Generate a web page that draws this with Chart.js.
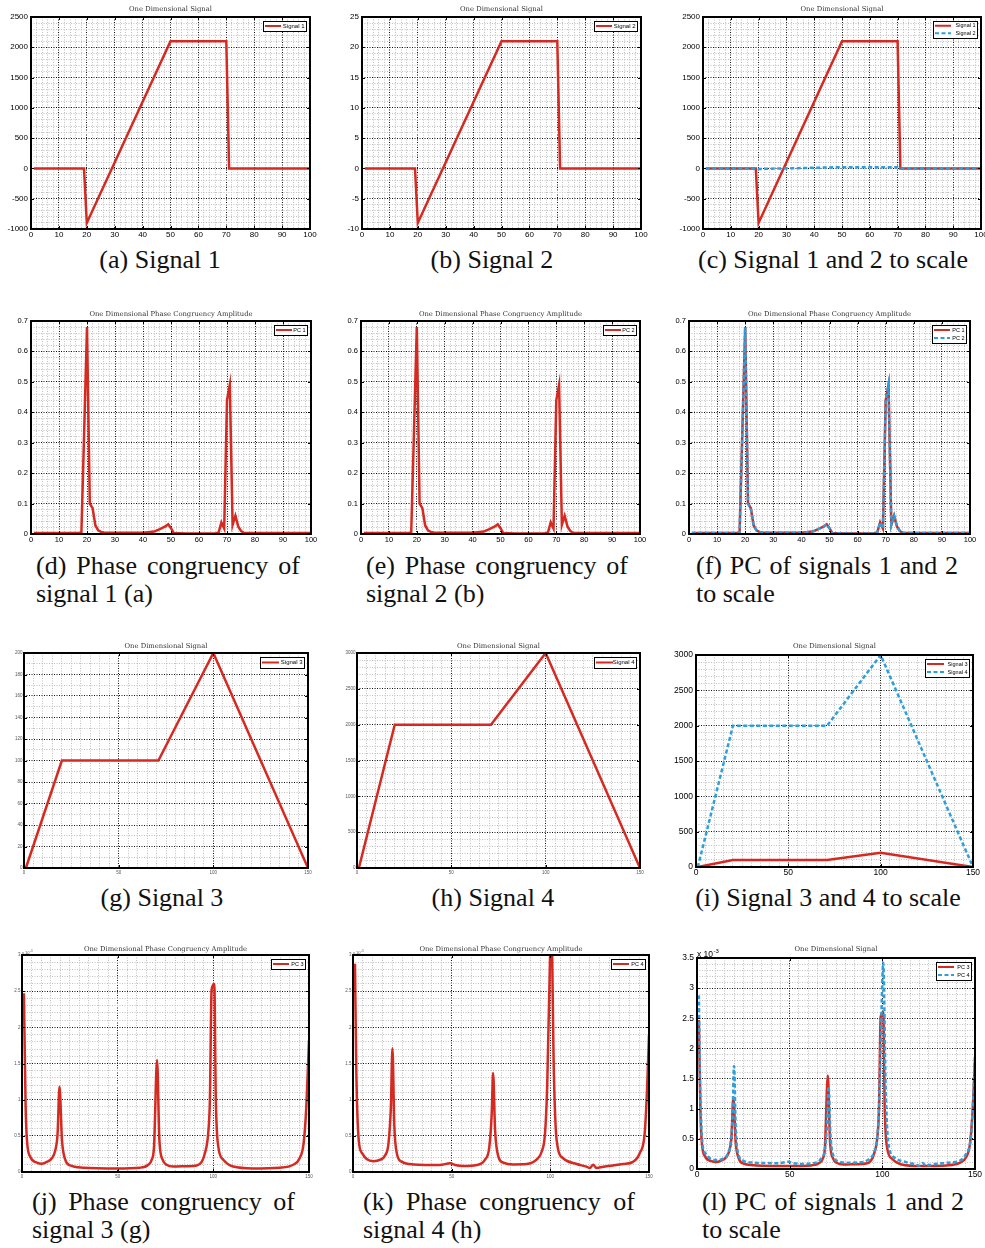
<!DOCTYPE html>
<html>
<head>
<meta charset="utf-8">
<script src="https://cdn.jsdelivr.net/npm/chart.js@4.4.1/dist/chart.umd.min.js"></script>
<style>
  body { margin: 0; width: 985px; height: 1248px; overflow: hidden; background: #fff; position: relative; }
  canvas { position: absolute; }
  .cap { position: absolute; font-family: "Liberation Serif", serif; font-size: 26px; line-height: 28px; color: #111; white-space: nowrap; }
  .c { width: 400px; margin-left: -200px; text-align: center; }
  .j { text-align: justify; text-align-last: justify; }
</style>
</head>
<body>
<div class="cap c" style="left:160px;top:246px">(a) Signal 1</div>
<div class="cap c" style="left:492px;top:246px">(b) Signal 2</div>
<div class="cap c" style="left:833px;top:246px">(c) Signal 1 and 2 to scale</div>

<div class="cap j" style="left:36px;top:552px;width:264px">(d) Phase congruency of</div>
<div class="cap" style="left:36px;top:580px">signal 1 (a)</div>
<div class="cap j" style="left:366px;top:552px;width:262px">(e) Phase congruency of</div>
<div class="cap" style="left:366px;top:580px">signal 2 (b)</div>
<div class="cap j" style="left:696px;top:552px;width:262px">(f) PC of signals 1 and 2</div>
<div class="cap" style="left:696px;top:580px">to scale</div>

<div class="cap c" style="left:162px;top:884px">(g) Signal 3</div>
<div class="cap c" style="left:493px;top:884px">(h) Signal 4</div>
<div class="cap c" style="left:828px;top:884px">(i) Signal 3 and 4 to scale</div>

<div class="cap j" style="left:32px;top:1188px;width:263px">(j) Phase congruency of</div>
<div class="cap" style="left:32px;top:1216px">signal 3 (g)</div>
<div class="cap j" style="left:363px;top:1188px;width:272px">(k) Phase congruency of</div>
<div class="cap" style="left:363px;top:1216px">signal 4 (h)</div>
<div class="cap j" style="left:702px;top:1188px;width:262px">(l) PC of signals 1 and 2</div>
<div class="cap" style="left:702px;top:1216px">to scale</div>

<script>
// ---- data ----
const sig1X = [1, 19, 20, 50, 70, 71, 100];
const sig1Y = [0, 0, -900, 2100, 2100, 0, 0];
const sig2X = [1, 19, 20, 50, 70, 71, 100];
const sig2Y = [0, 0, -9, 21, 21, 0, 0];

const pc1X = [1, 17, 18, 19, 20, 21, 22, 23, 24, 25, 26, 30, 40, 44, 46, 48, 49, 50, 51, 55, 66, 67, 68, 69, 70, 71, 72, 73, 74, 75, 76, 80, 100];
const pc1Y = [0.003, 0.003, 0.005, 0.34, 0.68, 0.1, 0.085, 0.028, 0.012, 0.007, 0.005, 0.004, 0.004, 0.008, 0.016, 0.025, 0.032, 0.019, 0.003, 0.002, 0.002, 0.005, 0.038, 0.018, 0.44, 0.49, 0.03, 0.06, 0.025, 0.01, 0.004, 0.003, 0.003];
const pc2X = [1, 17, 18, 19, 20, 21, 22, 23, 24, 25, 26, 30, 40, 44, 46, 48, 49, 50, 51, 55, 66, 67, 68, 69, 70, 71, 72, 73, 74, 75, 76, 80, 100];
const pc2Y = [0.003, 0.003, 0.005, 0.34, 0.68, 0.1, 0.085, 0.028, 0.012, 0.007, 0.005, 0.004, 0.004, 0.008, 0.016, 0.025, 0.032, 0.019, 0.003, 0.002, 0.002, 0.005, 0.038, 0.018, 0.44, 0.49, 0.03, 0.06, 0.025, 0.01, 0.004, 0.003, 0.003];

const sig3X = [1, 20, 71, 100, 150];
const sig3Y = [0, 100, 100, 200, 0];
const sig4X = [1, 20, 71, 100, 150];
const sig4Y = [0, 2000, 2000, 3000, 0];

// phase congruency of signals 3 and 4, in units of 1e-3
const pc3X = [1, 1.9, 2.6, 4.3, 7.8, 10.4, 13, 15.6, 17.4, 18.6, 19.6, 20.9, 22.6, 25.2, 32, 49.5, 61.7, 66, 67.8, 69, 70.6, 71.8, 73.5, 75.6, 79, 86, 91.3, 93.9, 95.6, 97.3, 98.2, 99.1, 100.5, 101.3, 102.6, 105.2, 110.4, 120.8, 134.7, 141.7, 145.1, 147.2, 148.6, 150];
const pc3Y = [2.47, 0.9, 0.44, 0.21, 0.13, 0.115, 0.14, 0.19, 0.3, 0.53, 1.18, 0.44, 0.17, 0.09, 0.06, 0.05, 0.06, 0.1, 0.17, 0.35, 1.55, 0.44, 0.17, 0.1, 0.075, 0.08, 0.09, 0.14, 0.26, 0.53, 1.0, 2.52, 2.6, 1.0, 0.35, 0.17, 0.075, 0.05, 0.06, 0.1, 0.19, 0.4, 0.9, 1.82];
const pc4X = [1, 1.7, 2.9, 4.6, 7.1, 10.4, 13.8, 16.3, 18, 19.2, 20, 20.9, 22.2, 24.8, 30.7, 44, 49.2, 51.7, 56, 62.7, 66.9, 69.1, 70.3, 71, 72, 73.7, 76.2, 81.2, 88, 93, 95.6, 97.3, 98.4, 99.3, 100.5, 101.8, 103.2, 106.5, 113.3, 118.3, 120, 121.7, 123.4, 126.8, 136.9, 141.9, 145.3, 147.8, 149, 150];
const pc4Y = [2.88, 1.36, 0.44, 0.26, 0.175, 0.15, 0.17, 0.23, 0.4, 0.9, 1.71, 0.67, 0.26, 0.14, 0.105, 0.097, 0.12, 0.097, 0.083, 0.097, 0.17, 0.35, 0.81, 1.37, 0.58, 0.21, 0.13, 0.105, 0.11, 0.17, 0.28, 0.53, 1.18, 2.29, 3.42, 1.36, 0.44, 0.19, 0.11, 0.074, 0.055, 0.1, 0.055, 0.074, 0.11, 0.14, 0.26, 0.53, 1.13, 1.9];

// major tick labels
const xTicks100 = [0, 10, 20, 30, 40, 50, 60, 70, 80, 90, 100];
const xTicks150 = [0, 50, 100, 150];
const sig1Ticks = [-1000, -500, 0, 500, 1000, 1500, 2000, 2500];
const sig2Ticks = [-10, -5, 0, 5, 10, 15, 20, 25];
const pcTicks = [0, 0.1, 0.2, 0.3, 0.4, 0.5, 0.6, 0.7];
const sig3Ticks = [0, 20, 40, 60, 80, 100, 120, 140, 160, 180, 200];
const sig4Ticks = [0, 500, 1000, 1500, 2000, 2500, 3000];
const pc34Ticks = [0, 0.5, 1, 1.5, 2, 2.5, 3];
const pcBothTicks = [0, 0.5, 1, 1.5, 2, 2.5, 3, 3.5];

const titleSig = 'One Dimensional Signal';
const titlePC = 'One Dimensional Phase Congruency Amplitude';
const red = '#d42a22';
const blue = '#2c9fdc';

// rect = plot area [left, top, right, bottom]; series = [label, xs, ys, dashedBlue, smooth]
const panels = [
  { rect: [31, 17, 310, 229], x: [xTicks100, 5], y: [sig1Ticks, 5], font: 8, pads: [3, 1], title: titleSig, gap: 8,
    series: [['Signal 1', sig1X, sig1Y, 0, 0]], legend: [43, 8, 6, 16] },
  { rect: [362, 17, 641, 229], x: [xTicks100, 5], y: [sig2Ticks, 5], font: 8, pads: [3, 1], title: titleSig, gap: 8,
    series: [['Signal 2', sig2X, sig2Y, 0, 0]], legend: [43, 8, 6, 16] },
  { rect: [703, 17, 981, 229], x: [xTicks100, 5], y: [sig1Ticks, 5], font: 8, pads: [3, 1], title: titleSig, gap: 8,
    series: [['Signal 1', sig1X, sig1Y, 0, 0], ['Signal 2', sig2X, sig2Y, 1, 0]], legend: [44, 7.5, 5.5, 16] },
  { rect: [31, 321, 311, 534], x: [xTicks100, 5], y: [pcTicks, 5], font: 7.5, pads: [3, 1], title: titlePC, gap: 7,
    series: [['PC 1', pc1X, pc1Y, 0, 0]], legend: [33, 8, 5.5, 16] },
  { rect: [361, 321, 640, 534], x: [xTicks100, 5], y: [pcTicks, 5], font: 7.5, pads: [3, 1], title: titlePC, gap: 7,
    series: [['PC 2', pc2X, pc2Y, 0, 0]], legend: [33, 8, 5.5, 16] },
  { rect: [689, 321, 970, 534], x: [xTicks100, 5], y: [pcTicks, 5], font: 7.5, pads: [3, 1], title: titlePC, gap: 7,
    series: [['PC 1', pc1X, pc1Y, 0, 0], ['PC 2', pc2X, pc2Y, 1, 0]], legend: [34, 8, 5.5, 16] },
  { rect: [24, 653, 308, 868], x: [xTicks150, 10], y: [sig3Ticks, 2], font: 4.5, pads: [1.5, 2.5], title: titleSig, gap: 7,
    series: [['Signal 3', sig3X, sig3Y, 0, 0]], legend: [44, 9, 6, 17] },
  { rect: [357, 653, 640, 868], x: [xTicks150, 10], y: [sig4Ticks, 5], font: 4.5, pads: [1.5, 2.5], title: titleSig, gap: 7,
    series: [['Signal 4', sig4X, sig4Y, 0, 0]], legend: [42, 9, 6, 17] },
  { rect: [696, 655, 973, 867], x: [xTicks150, 10], y: [sig4Ticks, 5], font: 8.5, pads: [3, 0.5], title: titleSig, gap: 9,
    series: [['Signal 3', sig3X, sig3Y, 0, 0], ['Signal 4', sig4X, sig4Y, 1, 0]], legend: [44, 8, 5.5, 17] },
  { rect: [22, 955, 309, 1172], x: [xTicks150, 10], y: [pc34Ticks, 5], font: 4.5, pads: [1.5, 2], title: titlePC, gap: 6,
    series: [['PC 3', pc3X, pc3Y, 0, 1]], legend: [34, 8, 5.5, 16], exp: 4 },
  { rect: [353, 955, 649, 1172], x: [xTicks150, 10], y: [pc34Ticks, 5], font: 4.5, pads: [1.5, 2], title: titlePC, gap: 6,
    series: [['PC 4', pc4X, pc4Y, 0, 1]], legend: [34, 8, 5.5, 16], exp: 4 },
  { rect: [697, 958, 975, 1169], x: [xTicks150, 10], y: [pcBothTicks, 5], font: 8.5, pads: [3, 0.5], title: titleSig, gap: 9,
    series: [['PC 3', pc3X, pc3Y, 0, 1], ['PC 4', pc4X, pc4Y, 1, 1]], legend: [35, 8, 5.5, 16], exp: 8.5 }
];

// major ticks plus evenly split minor ticks (MATLAB minor grid)
function withMinor(major, parts) {
  const out = [];
  for (let i = 0; i < major.length; i++) {
    out.push({ value: major[i], minor: false });
    if (i < major.length - 1) {
      for (let k = 1; k < parts; k++) {
        out.push({ value: major[i] + (major[i + 1] - major[i]) * k / parts, minor: true });
      }
    }
  }
  return out;
}

// box round the axes, inward ticks, exponent label
const framePlugin = {
  id: 'frame',
  afterDatasetsDraw(chart, args, o) {
    const { ctx, chartArea: a, scales } = chart;
    ctx.save();
    ctx.strokeStyle = '#000';
    ctx.lineWidth = 1;
    ctx.beginPath();
    scales.x.ticks.forEach(t => {
      if (t.minor) return;
      const px = Math.round(scales.x.getPixelForValue(t.value)) + 0.5;
      ctx.moveTo(px, a.bottom); ctx.lineTo(px, a.bottom - 3);
      ctx.moveTo(px, a.top); ctx.lineTo(px, a.top + 3);
    });
    scales.y.ticks.forEach(t => {
      if (t.minor) return;
      const py = Math.round(scales.y.getPixelForValue(t.value)) + 0.5;
      ctx.moveTo(a.left, py); ctx.lineTo(a.left + 3, py);
      ctx.moveTo(a.right, py); ctx.lineTo(a.right - 3, py);
    });
    ctx.stroke();
    ctx.lineWidth = 2;
    ctx.strokeRect(a.left, a.top, a.width, a.height);
    if (o.exp) {
      const s = o.exp;
      ctx.fillStyle = s < 6 ? '#555' : '#000';
      ctx.textBaseline = 'alphabetic';
      ctx.textAlign = 'left';
      ctx.font = s + 'px "Liberation Sans"';
      ctx.fillText('x 10', a.left, a.top - 1.5);
      const w = ctx.measureText('x 10').width;
      ctx.font = (s * 0.7) + 'px "Liberation Sans"';
      ctx.fillText('-3', a.left + w + 0.5, a.top - 1.5 - s * 0.45);
    }
    ctx.restore();
  }
};

// MATLAB style legend box in the upper right corner
const legendPlugin = {
  id: 'boxLegend',
  afterDraw(chart, args, o) {
    const { ctx, chartArea: a } = chart;
    const sets = chart.data.datasets;
    const [w, rowH, size, sample] = o.spec;
    const h = rowH * sets.length + 2;
    const x = Math.round(a.right - 4 - w), y = Math.round(a.top + 4);
    ctx.save();
    ctx.fillStyle = '#fff';
    ctx.fillRect(x, y, w, h);
    ctx.strokeStyle = '#000';
    ctx.lineWidth = 1;
    ctx.strokeRect(x + 0.5, y + 0.5, w, h);
    sets.forEach((d, i) => {
      const cy = y + 1 + rowH * (i + 0.5);
      ctx.strokeStyle = d.borderColor;
      ctx.lineWidth = 2;
      ctx.setLineDash(d.borderDash);
      ctx.beginPath();
      ctx.moveTo(x + 2, cy);
      ctx.lineTo(x + 2 + sample, cy);
      ctx.stroke();
      ctx.setLineDash([]);
      ctx.fillStyle = '#000';
      ctx.font = size + 'px "Liberation Sans"';
      ctx.textBaseline = 'middle';
      ctx.textAlign = 'right';
      ctx.fillText(d.label, x + w - 1.5, cy);
    });
    ctx.restore();
  }
};

function makeAxis(spec, p, isY, yw, xh) {
  const major = spec[0];
  return {
    type: 'linear',
    min: major[0],
    max: major[major.length - 1],
    afterBuildTicks: s => { s.ticks = withMinor(major, spec[1]); },
    afterFit: s => { if (isY) s.width = yw; else s.height = xh; },
    grid: {
      color: c => (c.tick && c.tick.minor) ? '#c0c0c0' : '#111',
      lineWidth: 1,
      drawTicks: false
    },
    border: { display: false, dash: [1, 1.5] },
    ticks: {
      autoSkip: false,
      maxRotation: 0,
      minRotation: 0,
      padding: isY ? p.pads[0] : p.pads[1],
      color: p.font < 6 ? '#555' : '#000',
      font: { family: 'Liberation Sans', size: p.font },
      callback: (v, i, t) => t[i].minor ? '' : String(v)
    }
  };
}

panels.forEach(p => {
  const [l, t, r, b] = p.rect;
  const yw = 32, xh = 16, rp = 10;
  const th = p.gap + 4;
  const cv = document.createElement('canvas');
  cv.width = (r - l) + yw + rp;
  cv.height = (b - t) + th + xh;
  cv.style.left = (l - yw) + 'px';
  cv.style.top = (t - th) + 'px';
  document.body.appendChild(cv);

  const datasets = p.series.map(s => ({
    label: s[0],
    data: s[1].map((x, i) => ({ x: x, y: s[2][i] })),
    borderColor: s[3] ? blue : red,
    borderDash: s[3] ? [4, 2.5] : [],
    borderWidth: 2.5,
    pointRadius: 0,
    tension: 0,
    cubicInterpolationMode: s[4] ? 'monotone' : 'default',
    order: s[3] ? 0 : 1
  }));

  new Chart(cv, {
    type: 'line',
    data: { datasets: datasets },
    plugins: [framePlugin, legendPlugin],
    options: {
      responsive: false,
      animation: false,
      devicePixelRatio: 1,
      layout: { padding: { left: 0, top: 0, right: rp, bottom: 0 } },
      scales: {
        x: makeAxis(p.x, p, false, yw, xh),
        y: makeAxis(p.y, p, true, yw, xh)
      },
      plugins: {
        legend: { display: false },
        tooltip: { enabled: false },
        title: {
          display: true,
          text: p.title,
          fullSize: false,
          color: '#333',
          font: { family: 'DejaVu Serif', size: 6.8, weight: 'normal', lineHeight: '8px' },
          padding: { top: 0, bottom: p.gap - 4 }
        },
        frame: { exp: p.exp || 0 },
        boxLegend: { spec: p.legend }
      }
    }
  });
});
</script>
</body>
</html>
